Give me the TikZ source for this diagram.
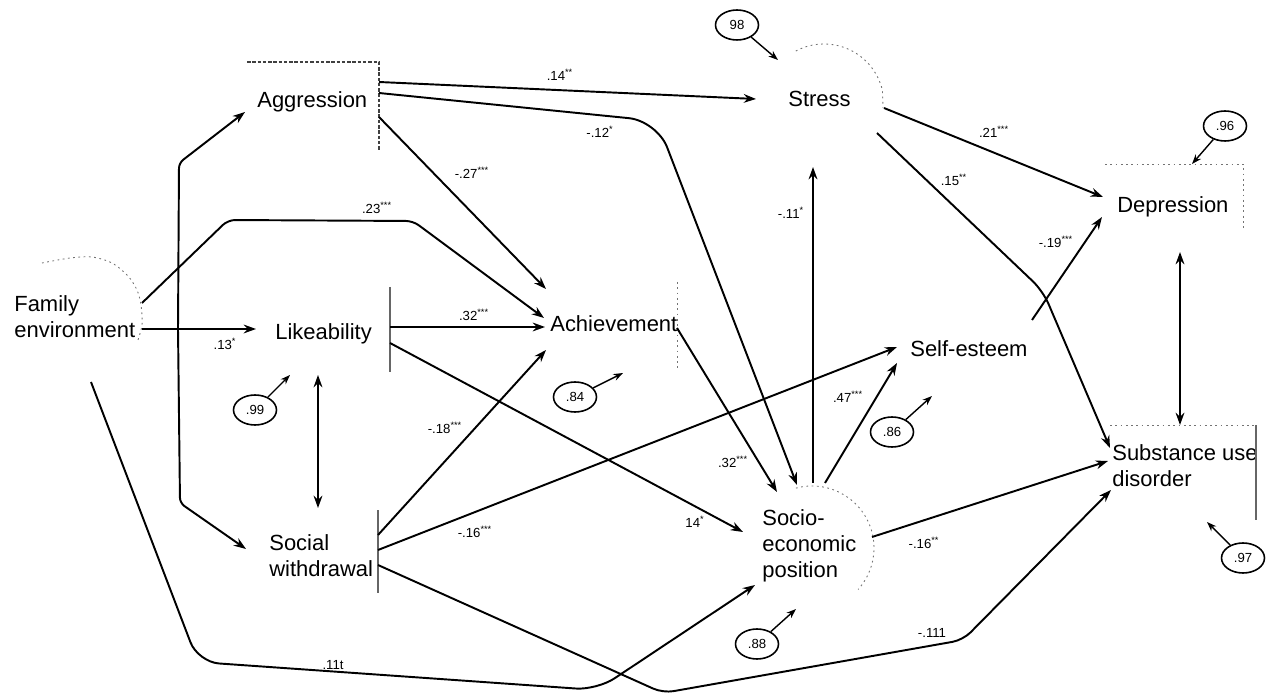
\documentclass[tikz,border=0pt]{standalone}
\usepackage{fontspec}
\setmainfont{Liberation Sans}
\usetikzlibrary{arrows.meta,shapes.geometric}

\newcommand\sigstars[1]{\textsuperscript{#1}}

\begin{document}
\begin{tikzpicture}[x=0.02cm,y=-0.02cm,
  var/.style={inner sep=0pt,font=\fontsize{12.5}{15}\selectfont,align=left},
  coef/.style={inner sep=0pt,font=\fontsize{7.5}{9}\selectfont},
  resid/.style={draw,line width=0.9pt,ellipse,minimum width=0.86cm,minimum height=0.6cm,
                inner sep=0pt,font=\fontsize{7.5}{9}\selectfont},
  conn/.style={line width=1.1pt,-{Stealth[length=7pt,width=5pt]}},
  bidir/.style={line width=1.1pt,{Stealth[length=7pt,width=5pt]}-{Stealth[length=7pt,width=5pt]}},
  errarrow/.style={line width=0.8pt,-{Stealth[length=5.5pt,width=4pt]}},
  rim/.style={line width=0.6pt,black!75,dash pattern=on 2pt off 1pt},
  faint/.style={line width=0.5pt,black!55,dash pattern=on 1pt off 2pt},
  thinrim/.style={line width=0.6pt,black!60},
]
\useasboundingbox (0,0) rectangle (1274,695);

% ---------- variables ----------
\node[var,anchor=base west]  (agg) at (257,108) {Aggression};
\node[var,anchor=base west]  (str) at (788,107) {Stress};
\node[var,anchor=base west]  (dep) at (1117,213) {Depression};
\node[var,anchor=base west]  (lik) at (275,340) {Likeability};
\node[var,anchor=base west]  (ach) at (550,332) {Achievement};
\node[var,anchor=base west]  (se)  at (910,357) {Self-esteem};
\node[var,anchor=north west] (fam) at (14,295) {Family\\environment};
\node[var,anchor=north west] (soc) at (269,534) {Social\\withdrawal};
\node[var,anchor=north west] (sep) at (762,509) {Socio-\\economic\\position};
\node[var,anchor=north west] (sud) at (1112,444) {Substance use\\disorder};

% ---------- partial outlines of the variables ----------
\draw[rim] (247,62) -- (379,62) -- (379,150);
\draw[thinrim] (390,287) -- (390,372);
\draw[thinrim] (378,510) -- (378,593);
\draw[faint] (677,282) -- (677,370);
\draw[faint] (1105,164) -- (1243,164) -- (1243,230);
\draw[faint] (1110,425) -- (1255,425);
\draw[thinrim] (1256,425) -- (1256,520);
\draw[faint] (824,104) ++(-118:60) arc[start angle=-118,end angle=-13,radius=60] -- (883,108);
\draw[faint] plot[smooth] coordinates {(42,263) (70,258) (92,257) (112,263) (128,276) (137,290) (141,305) (142,325) (137,343)};
\draw[faint] (812,548) ++(-105:62) arc[start angle=-105,end angle=42,radius=62];

% ---------- ports ----------
\coordinate (fam-e)  at (142,329);
\coordinate (fam-j)  at (178,329);
\coordinate (fam-ne) at (142,303);
\coordinate (fam-s)  at (91,382);
\coordinate (agg-w)  at (245,112);
\coordinate (agg-e1) at (379,82);
\coordinate (agg-e2) at (379,93);
\coordinate (agg-se) at (379,117);
\coordinate (lik-w)  at (256,329);
\coordinate (lik-e)  at (390,327);
\coordinate (lik-se) at (390,343);
\coordinate (lik-s)  at (318,375);
\coordinate (soc-w)  at (246,549);
\coordinate (soc-n)  at (318,508);
\coordinate (soc-e1) at (378,535);
\coordinate (soc-e2) at (378,550);
\coordinate (soc-e3) at (378,565);
\coordinate (ach-nw) at (546,289);
\coordinate (ach-w1) at (544,318);
\coordinate (ach-w)  at (545,327);
\coordinate (ach-sw) at (546,350);
\coordinate (ach-e)  at (677,328);
\coordinate (str-w)  at (756,99);
\coordinate (str-s)  at (813,167);
\coordinate (str-e)  at (884,108);
\coordinate (str-se) at (877,133);
\coordinate (sep-n0) at (777,492);
\coordinate (sep-n1) at (797,485);
\coordinate (sep-n2) at (813,483);
\coordinate (sep-n3) at (825,483);
\coordinate (sep-w)  at (743,532);
\coordinate (sep-sw) at (755,585);
\coordinate (sep-e)  at (872,537);
\coordinate (se-w)   at (897,347);
\coordinate (se-sw)  at (897,363);
\coordinate (se-e)   at (1032,320);
\coordinate (dep-w)  at (1103,197);
\coordinate (dep-sw) at (1102,217);
\coordinate (dep-s)  at (1180,252);
\coordinate (sud-n)  at (1180,425);
\coordinate (sud-nw) at (1110,448);
\coordinate (sud-w1) at (1108,461);
\coordinate (sud-w2) at (1111,490);

% ---------- paths ----------
\draw[conn] (fam-e) -- (lik-w);
\draw[conn,rounded corners=3pt] (fam-j) -- (179,163) -- (agg-w);
\draw[conn,rounded corners=3pt] (fam-j) -- (180,503) -- (soc-w);
\draw[conn,rounded corners=4pt] (fam-ne) -- (228,220) -- (413,221) -- (ach-w1);
\draw[conn,rounded corners=12pt] (fam-s) -- (198,662) -- (597,690) -- (sep-sw);

\draw[conn] (agg-e1) -- (str-w);
\draw[conn,rounded corners=16pt] (agg-e2) -- (657,121) -- (sep-n1);
\draw[conn] (agg-se) -- (ach-nw);

\draw[conn] (lik-e) -- (ach-w);
\draw[conn] (lik-se) -- (sep-w);
\draw[bidir] (lik-s) -- (soc-n);

\draw[conn] (soc-e1) -- (ach-sw);
\draw[conn] (soc-e2) -- (se-w);
\draw[conn,rounded corners=6pt] (soc-e3) -- (663,693) -- (963,640) -- (sud-w2);

\draw[conn] (ach-e) -- (sep-n0);

\draw[conn] (str-e) -- (dep-w);
\draw[conn,rounded corners=8pt] (str-se) -- (1043,291) -- (sud-nw);

\draw[conn] (sep-n2) -- (str-s);
\draw[conn] (sep-n3) -- (se-sw);
\draw[conn] (sep-e) -- (sud-w1);

\draw[conn] (se-e) -- (dep-sw);
\draw[bidir] (dep-s) -- (sud-n);

% ---------- coefficients ----------
\node[coef] (c-fa-ach) at (377,208) {.23\sigstars{***}};
\node[coef] (c-fa-lik) at (225,344) {.13\sigstars{*}};
\node[coef] (c-fa-sep) at (333,665) {.11t};
\node[coef] (c-ag-str) at (560,75)  {.14\sigstars{**}};
\node[coef] (c-ag-sep) at (600,132) {-.12\sigstars{*}};
\node[coef] (c-ag-ach) at (472,173) {-.27\sigstars{***}};
\node[coef] (c-li-ach) at (474,315) {.32\sigstars{***}};
\node[coef] (c-li-sep) at (695,522) {14\sigstars{*}};
\node[coef] (c-so-ach) at (445,428) {-.18\sigstars{***}};
\node[coef] (c-so-se)  at (475,532) {-.16\sigstars{***}};
\node[coef] (c-so-sud) at (932,633) {-.111};
\node[coef] (c-ac-sep) at (733,462) {.32\sigstars{***}};
\node[coef] (c-se-str) at (791,213) {-.11\sigstars{*}};
\node[coef] (c-se-se)  at (848,397) {.47\sigstars{***}};
\node[coef] (c-st-dep) at (994,132) {.21\sigstars{***}};
\node[coef] (c-st-sud) at (954,180) {.15\sigstars{**}};
\node[coef] (c-es-dep) at (1056,242) {-.19\sigstars{***}};
\node[coef] (c-se-sud) at (924,543) {-.16\sigstars{**}};

% ---------- residuals ----------
\node[resid] (r-str) at (737,25)   {98};
\node[resid] (r-dep) at (1225,126) {.96};
\node[resid] (r-lik) at (255,410)  {.99};
\node[resid] (r-ach) at (575,397)  {.84};
\node[resid] (r-se)  at (892,432)  {.86};
\node[resid] (r-sep) at (757,644)  {.88};
\node[resid] (r-sud) at (1243,558) {.97};

\coordinate (str-err) at (778,60);
\coordinate (dep-err) at (1192,164);
\coordinate (lik-err) at (290,375);
\coordinate (ach-err) at (623,373);
\coordinate (se-err)  at (932,396);
\coordinate (sep-err) at (796,609);
\coordinate (sud-err) at (1207,522);

\draw[errarrow] (r-str) -- (str-err);
\draw[errarrow] (r-dep) -- (dep-err);
\draw[errarrow] (r-lik) -- (lik-err);
\draw[errarrow] (r-ach) -- (ach-err);
\draw[errarrow] (r-se)  -- (se-err);
\draw[errarrow] (r-sep) -- (sep-err);
\draw[errarrow] (r-sud) -- (sud-err);
\end{tikzpicture}
\end{document}
